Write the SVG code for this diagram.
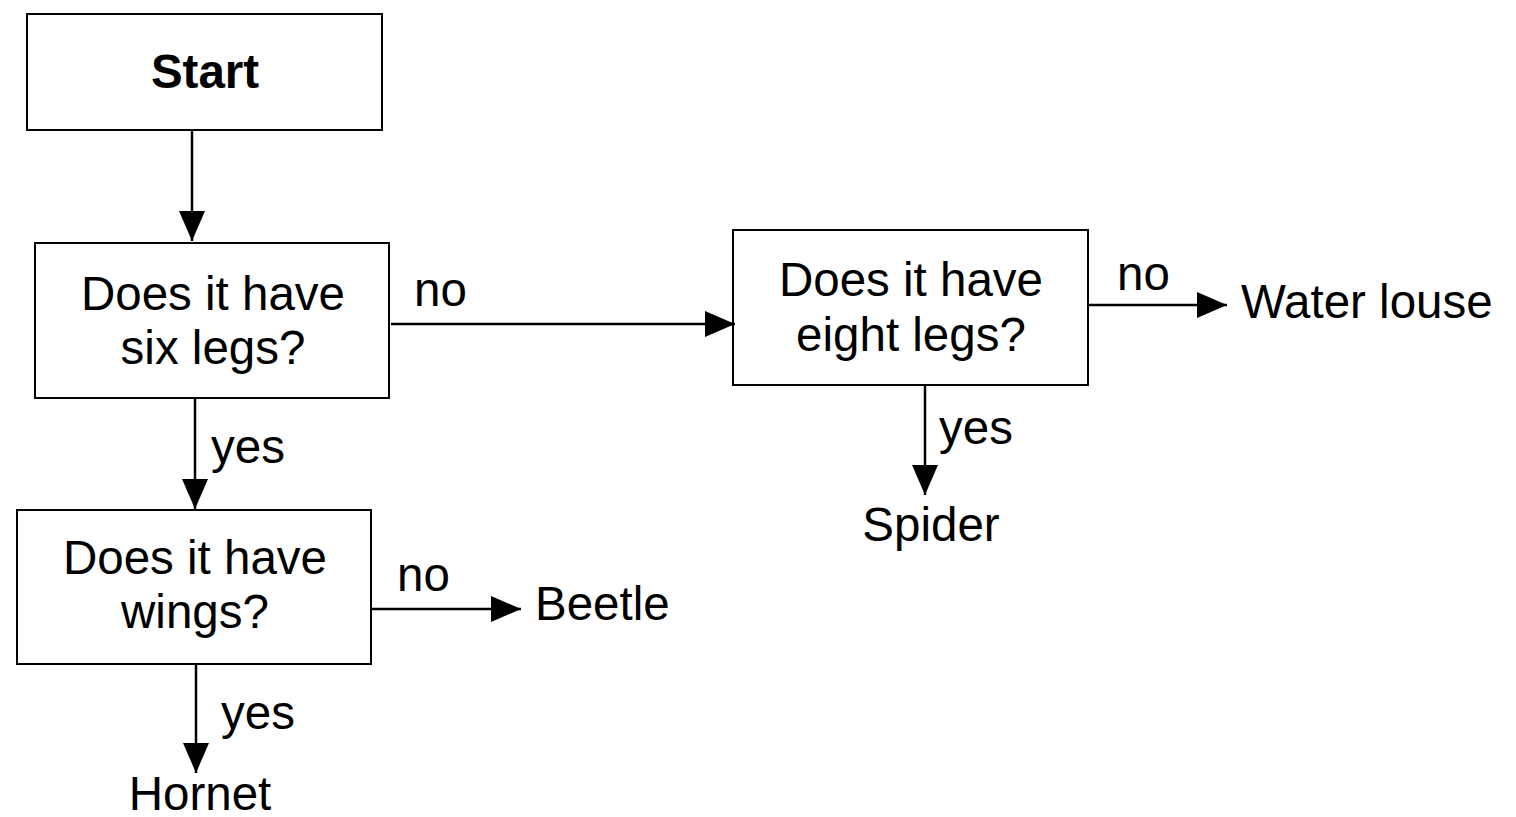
<svg xmlns="http://www.w3.org/2000/svg" width="1516" height="817" viewBox="0 0 1516 817">
<defs>
<marker id="arr" viewBox="0 0 30 26" refX="30" refY="13" markerWidth="30" markerHeight="26" markerUnits="userSpaceOnUse" orient="auto">
<path d="M0,0 L30,13 L0,26 Z" fill="#000"/>
</marker>
<style>
.box{fill:#fff;stroke:#000;stroke-width:2}
.t{font-family:"Liberation Sans",Arial,sans-serif;font-size:47.5px;fill:#000}
.c{text-anchor:middle}
.ln{stroke:#000;stroke-width:2.5;fill:none;marker-end:url(#arr)}
</style>
</defs>
<rect width="1516" height="817" fill="#fff"/>
<g id="start">
<rect class="box" x="27" y="14" width="355" height="116"/>
<text class="t c" x="205" y="88" font-weight="bold" font-size="46">Start</text>
</g>
<g id="q-six-legs">
<rect class="box" x="35" y="243" width="354" height="155"/>
<text class="t c" x="213" y="310">Does it have</text>
<text class="t c" x="213" y="364">six legs?</text>
</g>
<g id="q-wings">
<rect class="box" x="17" y="510" width="354" height="154"/>
<text class="t c" x="195" y="574">Does it have</text>
<text class="t c" x="195" y="628">wings?</text>
</g>
<g id="q-eight-legs">
<rect class="box" x="733" y="230" width="355" height="155"/>
<text class="t c" x="911" y="296">Does it have</text>
<text class="t c" x="911" y="351">eight legs?</text>
</g>
<g id="beetle"><text class="t" x="535" y="620">Beetle</text></g>
<g id="hornet"><text class="t c" x="200" y="810">Hornet</text></g>
<g id="spider"><text class="t c" x="931" y="541">Spider</text></g>
<g id="water-louse"><text class="t" x="1241" y="318">Water louse</text></g>
<g id="connectors">
<line class="ln" x1="192" y1="130" x2="192" y2="241"/>
<line class="ln" x1="195" y1="398" x2="195" y2="509"/>
<line class="ln" x1="391" y1="324" x2="735" y2="324"/>
<line class="ln" x1="371" y1="609" x2="521" y2="609"/>
<line class="ln" x1="196" y1="664" x2="196" y2="773"/>
<line class="ln" x1="1088" y1="305" x2="1227" y2="305"/>
<line class="ln" x1="925" y1="385" x2="925" y2="495"/>
<text class="t" x="414" y="306">no</text>
<text class="t" x="211" y="463">yes</text>
<text class="t" x="397" y="591">no</text>
<text class="t" x="221" y="729">yes</text>
<text class="t" x="1117" y="290">no</text>
<text class="t" x="939" y="444">yes</text>
</g>
</svg>
